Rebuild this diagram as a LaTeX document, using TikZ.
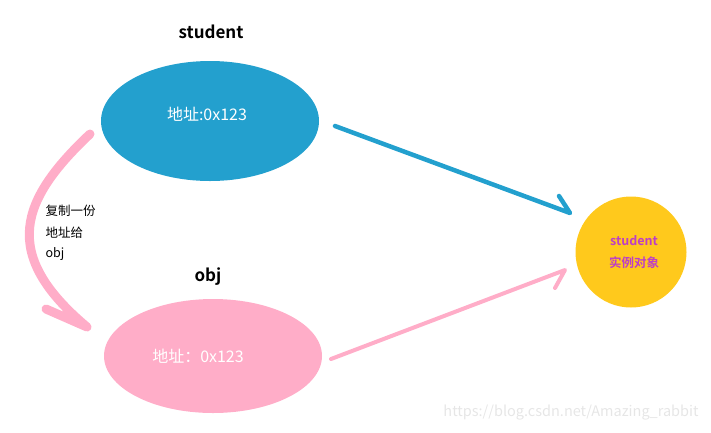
\documentclass[tikz,border=0pt]{standalone}
\usepackage{fontspec}
\setmainfont{Noto Sans CJK SC}[BoldFont={Noto Sans CJK SC Bold}]
\usetikzlibrary{shapes.geometric}
\definecolor{cblue}{HTML}{23A0CE}
\definecolor{cpink}{HTML}{FFADC8}
\definecolor{cyellow}{HTML}{FFC91C}
\definecolor{cpurple}{HTML}{BD3FC6}
\definecolor{cmark}{HTML}{E6E6E6}
\tikzset{
  blob/.style={ellipse, inner sep=0pt, draw=none},
  title/.style={font=\bfseries\fontsize{17}{20}\selectfont, text=black},
  inner/.style={font=\fontsize{16}{19}\selectfont, text=white},
  note/.style={font=\fontsize{12.5}{15}\selectfont, text=black, anchor=west},
  link/.style={line cap=round, line join=round},
}
\begin{document}
\begin{tikzpicture}[x=1pt,y=-1pt]
\useasboundingbox (0,0) rectangle (711,432);
% nodes
\node[blob, fill=cblue, minimum width=218pt, minimum height=120pt] (stu) at (210,121) {};
\node[inner] (stutext) at (207,114) {地址:0x123};
\node[title] (stutitle) at (211,32) {student};
\node[blob, fill=cpink, minimum width=218pt, minimum height=114pt] (obj) at (213,356) {};
\node[inner] (objtext) at (198,356) {地址：0x123};
\node[title] (objtitle) at (208,277) {obj};
\node[circle, fill=cyellow, minimum size=111pt, inner sep=0pt] (inst) at (631,252) {};
\node[font=\bfseries\fontsize{12.5}{22}\selectfont, text=cpurple, align=center] (insttext) at (634,252) {student\\实例对象};
% note
\node[note] (n1) at (42,211) {复制一份};
\node[note] (n2) at (42,233) {地址给};
\node[note] (n3) at (42,254) {obj};
% connector end points
\coordinate (bs) at (335,126);
\coordinate (bt) at (570,213);
\coordinate (bb) at (559,196);
\coordinate (ps) at (331,359);
\coordinate (pt) at (565,270);
\coordinate (pb) at (555,288);
\coordinate (cs) at (90,134);
\coordinate (ct) at (87,327);
\coordinate (cb) at (46,309);
% connectors
\draw[link, cblue, line width=4.5pt] (bs) -- (bt) -- (bb);
\draw[link, cpink, line width=4pt] (ps) -- (pt) -- (pb);
\draw[link, cpink, line width=9pt] (cs) .. controls (20,200) and (0,254) .. (ct) -- (cb);
% watermark
\node[font=\fontsize{14.5}{17}\selectfont, text=cmark] (wm) at (571,413) {https://blog.csdn.net/Amazing\_rabbit};
\end{tikzpicture}
\end{document}
